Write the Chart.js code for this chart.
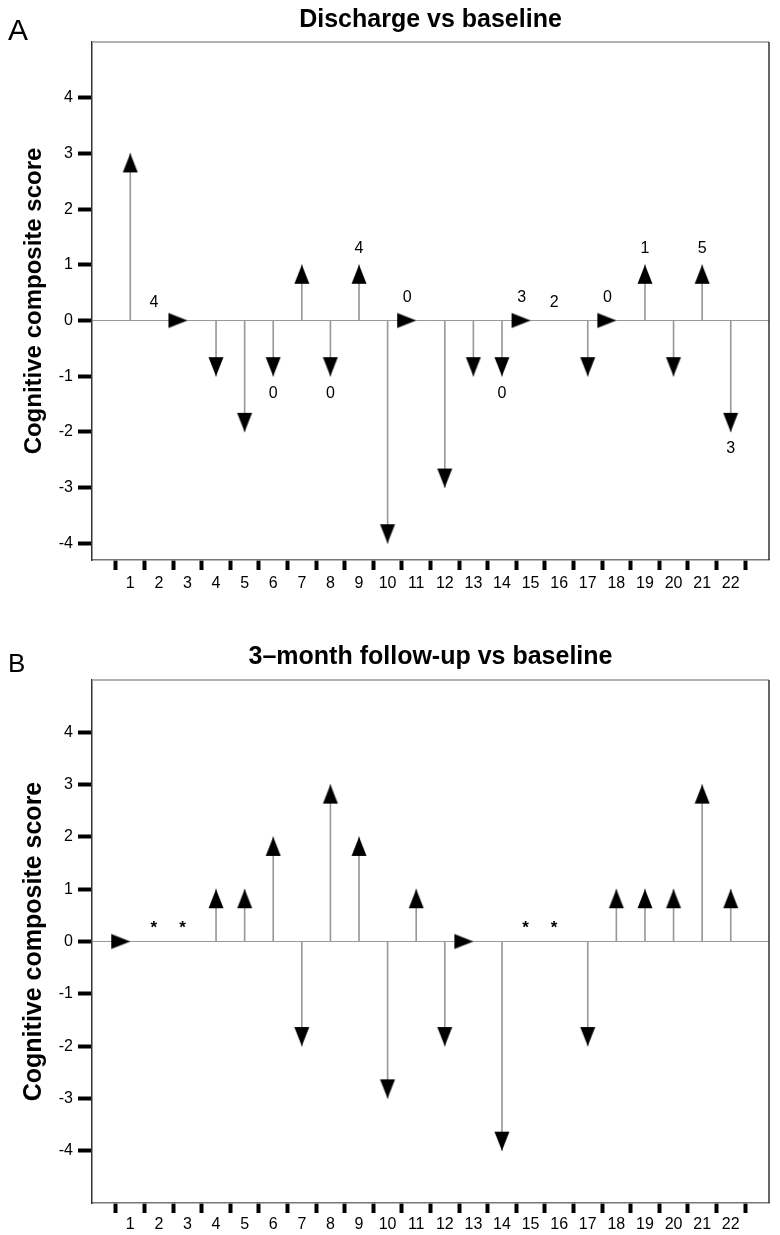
<!DOCTYPE html>
<html>
<head>
<meta charset="utf-8">
<script src="https://cdn.jsdelivr.net/npm/chart.js@4.4.1/dist/chart.umd.min.js"></script>
<style>
  body { margin: 0; background: #fff; }
  canvas { position: absolute; left: 0; }
</style>
</head>
<body>
<canvas id="chartA" width="780" height="600" style="top:0"></canvas>
<canvas id="chartB" width="780" height="635" style="top:600px"></canvas>
<script>
const patients = [1, 2, 3, 4, 5, 6, 7, 8, 9, 10, 11, 12, 13, 14, 15, 16, 17, 18, 19, 20, 21, 22];
const yTicks = [-4, -3, -2, -1, 0, 1, 2, 3, 4];

// change in cognitive composite score, null = no value
const dischargeChange = [3, null, 0, -1, -2, -1, 1, -1, 1, -4, 0, -3, -1, -1, 0, null, -1, 0, 1, -1, 1, -2];
const dischargeNotes = ["", "4", "", "", "", "0", "", "0", "4", "", "0", "", "", "0", "3", "2", "", "0", "1", "", "5", "3"];

const followupChange = [0, null, null, 1, 1, 2, -2, 3, 2, -3, 1, -2, 0, -4, null, null, -2, 1, 1, 1, 3, 1];
const followupNotes = ["", "*", "*", "", "", "", "", "", "", "", "", "", "", "", "*", "*", "", "", "", "", "", ""];

Chart.defaults.font.family = '"Liberation Sans", Arial, Helvetica, sans-serif';
Chart.defaults.color = "#000";

// arrow head with its tip at the centre of the canvas, pointing up
function makeArrow() {
  const c = document.createElement("canvas");
  c.width = 40;
  c.height = 40;
  const g = c.getContext("2d");
  g.fillStyle = "#000";
  g.beginPath();
  g.moveTo(20, 20);
  g.lineTo(27.5, 39);
  g.lineTo(12.5, 39);
  g.closePath();
  g.fill();
  return c;
}
const arrow = makeArrow();

const extras = {
  id: "extras",
  afterDatasetsDraw(chart, args, opts) {
    const ctx = chart.ctx;
    const area = chart.chartArea;
    const xs = chart.scales.x, ys = chart.scales.y;
    ctx.save();
    // frame top and right
    ctx.lineWidth = 1.5;
    ctx.strokeStyle = "#999";
    ctx.beginPath();
    ctx.moveTo(area.left, area.top);
    ctx.lineTo(area.right, area.top);
    ctx.stroke();
    ctx.strokeStyle = "#333";
    ctx.beginPath();
    ctx.moveTo(area.right, area.top);
    ctx.lineTo(area.right, area.bottom);
    ctx.stroke();

    // notes next to the arrows
    ctx.fillStyle = "#000";
    ctx.textAlign = "center";
    ctx.textBaseline = "middle";
    opts.notes.forEach((t, i) => {
      if (!t) return;
      const v = opts.values[i];
      let x = xs.getPixelForValue(patients[i]);
      let y;
      if (v === null) { x -= 5; y = ys.getPixelForValue(0) - 18; }
      else if (v === 0) { x -= 9; y = ys.getPixelForValue(0) - 23; }
      else if (v > 0) y = ys.getPixelForValue(v) - 16;
      else y = ys.getPixelForValue(v) + 17;
      if (t === "*") {
        ctx.font = 'bold 17px "Liberation Sans", Arial, sans-serif';
        y += 5;
      } else {
        ctx.font = '16px "Liberation Sans", Arial, sans-serif';
      }
      ctx.fillText(t, x, y);
    });

    // panel letter
    ctx.textAlign = "left";
    ctx.textBaseline = "alphabetic";
    ctx.font = opts.letterSize + 'px "Liberation Sans", Arial, sans-serif';
    ctx.fillText(opts.letter, 8, opts.letterY);
    ctx.restore();
  }
};

function buildChart(id, cfg) {
  const points = cfg.values.map((v, i) => ({ x: patients[i], y: v }));
  return new Chart(document.getElementById(id), {
    type: "scatter",
    data: {
      datasets: [
        {
          data: points,
          order: 0,
          pointStyle: arrow,
          pointRadius: 10,
          pointRotation: c => {
            const v = c.raw ? c.raw.y : 0;
            return v > 0 ? 0 : (v < 0 ? 180 : 90);
          },
          clip: false
        },
        {
          type: "bar",
          data: points,
          order: 1,
          barThickness: 1,
          backgroundColor: "#999",
          borderWidth: 0
        }
      ]
    },
    options: {
      responsive: false,
      animation: false,
      events: [],
      layout: { padding: { left: 0, right: 3, top: 0, bottom: 0 } },
      plugins: {
        legend: { display: false },
        tooltip: { enabled: false },
        title: {
          display: true,
          text: cfg.title,
          fullSize: false,
          color: "#000",
          font: { size: 25, weight: "bold" },
          padding: { top: cfg.titleTop, bottom: cfg.titleBottom }
        },
        extras: { notes: cfg.notes, values: cfg.values, letter: cfg.letter, letterSize: cfg.letterSize, letterY: cfg.letterY }
      },
      scales: {
        x: {
          type: "linear",
          min: 0.2,
          max: 22.8,
          afterBuildTicks: s => { s.ticks = patients.map(v => ({ value: v })); },
          afterFit: s => { s.height = cfg.xHeight; },
          ticks: { font: { size: 16 }, color: "#000", padding: cfg.xPad, maxRotation: 0, autoSkip: false },
          grid: { drawOnChartArea: false, tickLength: 10, tickWidth: 4, tickColor: "#000" },
          border: { color: "#777", width: 1.5 }
        },
        y: {
          min: cfg.yMin,
          max: 5,
          afterBuildTicks: s => { s.ticks = yTicks.map(v => ({ value: v })); },
          afterFit: s => { s.width = 92; },
          ticks: { font: { size: 16 }, color: "#000", padding: 5 },
          grid: {
            color: c => (c.tick && c.tick.value === 0 ? "#999" : "rgba(0,0,0,0)"),
            lineWidth: 1,
            tickLength: 14,
            tickWidth: 4,
            tickColor: "#000"
          },
          border: { color: "#333", width: 1.5 },
          title: {
            display: true,
            text: "Cognitive composite score",
            color: "#000",
            font: { size: cfg.yTitleSize, weight: "bold" },
            padding: { top: cfg.yTitlePad, bottom: 0 }
          }
        }
      }
    },
    plugins: [extras]
  });
}

buildChart("chartA", {
  values: dischargeChange, notes: dischargeNotes, title: "Discharge vs baseline",
  yMin: -4.3, titleTop: 5, titleBottom: 7, xHeight: 40, xPad: 4,
  yTitleSize: 24, yTitlePad: 19.6,
  letter: "A", letterSize: 30, letterY: 40
});
buildChart("chartB", {
  values: followupChange, notes: followupNotes, title: "3\u2013month follow-up vs baseline",
  yMin: -5, titleTop: 42, titleBottom: 8, xHeight: 32, xPad: 2,
  yTitleSize: 25, yTitlePad: 19,
  letter: "B", letterSize: 26, letterY: 72
});
</script>
</body>
</html>
